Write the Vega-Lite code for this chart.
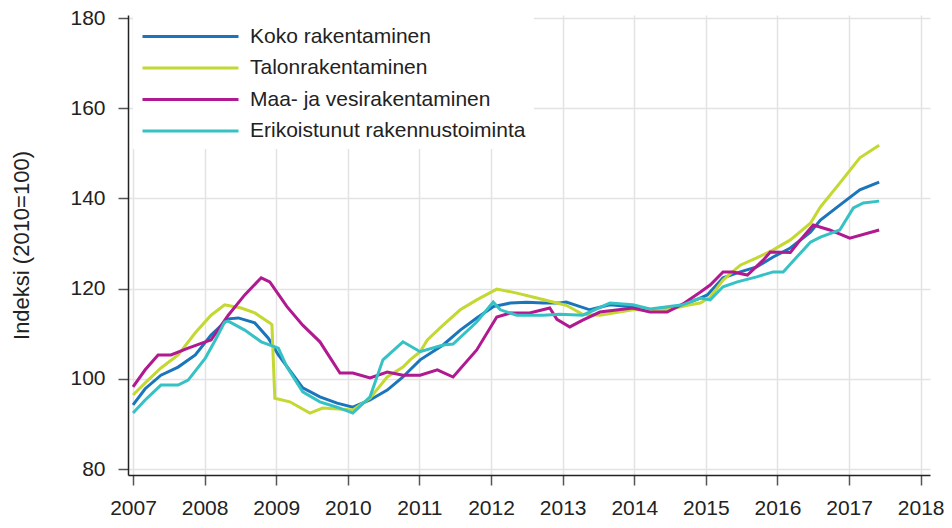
{
  "$schema": "https://vega.github.io/schema/vega-lite/v6.json",
  "autosize": {"type": "none"},
  "padding": {"left": 128, "top": 15, "right": 22, "bottom": 53},
  "width": 802,
  "height": 460,
  "background": "white",
  "config": {
    "font": "Liberation Sans",
    "view": {"stroke": null},
    "axis": {
      "labelFont": "Liberation Sans",
      "titleFont": "Liberation Sans",
      "labelFontSize": 21,
      "titleFontSize": 22,
      "titleFontWeight": "normal",
      "labelColor": "#222",
      "titleColor": "#222",
      "domainColor": "#222",
      "domainWidth": 1.5,
      "tickColor": "#555",
      "tickWidth": 1.5,
      "tickSize": 10,
      "gridColor": "#e3e3e3",
      "gridWidth": 1.5
    }
  },
  "datasets": {
    "d": [
      {"s":"Koko rakentaminen","t":2007.00,"v":94.2},
      {"s":"Koko rakentaminen","t":2007.17,"v":97.8},
      {"s":"Koko rakentaminen","t":2007.39,"v":100.8},
      {"s":"Koko rakentaminen","t":2007.63,"v":102.6},
      {"s":"Koko rakentaminen","t":2007.87,"v":105.3},
      {"s":"Koko rakentaminen","t":2008.09,"v":109.7},
      {"s":"Koko rakentaminen","t":2008.33,"v":113.3},
      {"s":"Koko rakentaminen","t":2008.47,"v":113.5},
      {"s":"Koko rakentaminen","t":2008.70,"v":112.4},
      {"s":"Koko rakentaminen","t":2008.89,"v":109.0},
      {"s":"Koko rakentaminen","t":2009.03,"v":105.3},
      {"s":"Koko rakentaminen","t":2009.37,"v":98.0},
      {"s":"Koko rakentaminen","t":2009.61,"v":96.0},
      {"s":"Koko rakentaminen","t":2009.85,"v":94.6},
      {"s":"Koko rakentaminen","t":2010.07,"v":93.7},
      {"s":"Koko rakentaminen","t":2010.31,"v":95.3},
      {"s":"Koko rakentaminen","t":2010.55,"v":97.5},
      {"s":"Koko rakentaminen","t":2010.77,"v":100.4},
      {"s":"Koko rakentaminen","t":2010.87,"v":102.0},
      {"s":"Koko rakentaminen","t":2011.01,"v":104.2},
      {"s":"Koko rakentaminen","t":2011.33,"v":107.5},
      {"s":"Koko rakentaminen","t":2011.57,"v":110.8},
      {"s":"Koko rakentaminen","t":2011.80,"v":113.5},
      {"s":"Koko rakentaminen","t":2012.03,"v":116.0},
      {"s":"Koko rakentaminen","t":2012.27,"v":116.8},
      {"s":"Koko rakentaminen","t":2012.50,"v":117.0},
      {"s":"Koko rakentaminen","t":2012.73,"v":116.8},
      {"s":"Koko rakentaminen","t":2012.96,"v":116.8},
      {"s":"Koko rakentaminen","t":2013.05,"v":117.0},
      {"s":"Koko rakentaminen","t":2013.38,"v":115.3},
      {"s":"Koko rakentaminen","t":2013.66,"v":116.4},
      {"s":"Koko rakentaminen","t":2013.98,"v":116.0},
      {"s":"Koko rakentaminen","t":2014.22,"v":115.3},
      {"s":"Koko rakentaminen","t":2014.46,"v":115.3},
      {"s":"Koko rakentaminen","t":2014.68,"v":116.4},
      {"s":"Koko rakentaminen","t":2014.92,"v":117.9},
      {"s":"Koko rakentaminen","t":2015.02,"v":118.6},
      {"s":"Koko rakentaminen","t":2015.24,"v":122.4},
      {"s":"Koko rakentaminen","t":2015.48,"v":123.7},
      {"s":"Koko rakentaminen","t":2015.71,"v":124.8},
      {"s":"Koko rakentaminen","t":2015.94,"v":127.0},
      {"s":"Koko rakentaminen","t":2016.18,"v":129.0},
      {"s":"Koko rakentaminen","t":2016.46,"v":132.5},
      {"s":"Koko rakentaminen","t":2016.60,"v":135.2},
      {"s":"Koko rakentaminen","t":2016.87,"v":138.5},
      {"s":"Koko rakentaminen","t":2017.15,"v":141.9},
      {"s":"Koko rakentaminen","t":2017.42,"v":143.6},

      {"s":"Talonrakentaminen","t":2007.00,"v":96.4},
      {"s":"Talonrakentaminen","t":2007.17,"v":99.1},
      {"s":"Talonrakentaminen","t":2007.39,"v":102.4},
      {"s":"Talonrakentaminen","t":2007.63,"v":105.3},
      {"s":"Talonrakentaminen","t":2007.87,"v":110.2},
      {"s":"Talonrakentaminen","t":2008.09,"v":114.1},
      {"s":"Talonrakentaminen","t":2008.28,"v":116.4},
      {"s":"Talonrakentaminen","t":2008.51,"v":115.7},
      {"s":"Talonrakentaminen","t":2008.70,"v":114.6},
      {"s":"Talonrakentaminen","t":2008.91,"v":112.4},
      {"s":"Talonrakentaminen","t":2008.94,"v":112.0},
      {"s":"Talonrakentaminen","t":2008.98,"v":95.7},
      {"s":"Talonrakentaminen","t":2009.19,"v":94.9},
      {"s":"Talonrakentaminen","t":2009.47,"v":92.4},
      {"s":"Talonrakentaminen","t":2009.65,"v":93.5},
      {"s":"Talonrakentaminen","t":2010.07,"v":93.1},
      {"s":"Talonrakentaminen","t":2010.31,"v":95.7},
      {"s":"Talonrakentaminen","t":2010.55,"v":100.4},
      {"s":"Talonrakentaminen","t":2010.77,"v":102.6},
      {"s":"Talonrakentaminen","t":2010.87,"v":104.2},
      {"s":"Talonrakentaminen","t":2011.01,"v":106.0},
      {"s":"Talonrakentaminen","t":2011.11,"v":108.6},
      {"s":"Talonrakentaminen","t":2011.33,"v":111.9},
      {"s":"Talonrakentaminen","t":2011.57,"v":115.3},
      {"s":"Talonrakentaminen","t":2011.80,"v":117.5},
      {"s":"Talonrakentaminen","t":2012.08,"v":119.9},
      {"s":"Talonrakentaminen","t":2012.36,"v":119.0},
      {"s":"Talonrakentaminen","t":2012.64,"v":117.9},
      {"s":"Talonrakentaminen","t":2012.92,"v":116.8},
      {"s":"Talonrakentaminen","t":2013.05,"v":116.3},
      {"s":"Talonrakentaminen","t":2013.28,"v":114.3},
      {"s":"Talonrakentaminen","t":2013.52,"v":114.1},
      {"s":"Talonrakentaminen","t":2013.98,"v":115.3},
      {"s":"Talonrakentaminen","t":2014.46,"v":115.3},
      {"s":"Talonrakentaminen","t":2014.78,"v":116.4},
      {"s":"Talonrakentaminen","t":2014.92,"v":116.8},
      {"s":"Talonrakentaminen","t":2015.06,"v":118.1},
      {"s":"Talonrakentaminen","t":2015.24,"v":121.9},
      {"s":"Talonrakentaminen","t":2015.48,"v":125.2},
      {"s":"Talonrakentaminen","t":2015.71,"v":126.8},
      {"s":"Talonrakentaminen","t":2015.94,"v":128.6},
      {"s":"Talonrakentaminen","t":2016.18,"v":130.8},
      {"s":"Talonrakentaminen","t":2016.46,"v":134.5},
      {"s":"Talonrakentaminen","t":2016.60,"v":138.1},
      {"s":"Talonrakentaminen","t":2016.87,"v":143.4},
      {"s":"Talonrakentaminen","t":2017.15,"v":149.0},
      {"s":"Talonrakentaminen","t":2017.42,"v":151.8},

      {"s":"Maa- ja vesirakentaminen","t":2007.00,"v":98.2},
      {"s":"Maa- ja vesirakentaminen","t":2007.17,"v":102.0},
      {"s":"Maa- ja vesirakentaminen","t":2007.35,"v":105.3},
      {"s":"Maa- ja vesirakentaminen","t":2007.53,"v":105.3},
      {"s":"Maa- ja vesirakentaminen","t":2007.77,"v":106.8},
      {"s":"Maa- ja vesirakentaminen","t":2008.01,"v":108.2},
      {"s":"Maa- ja vesirakentaminen","t":2008.09,"v":108.6},
      {"s":"Maa- ja vesirakentaminen","t":2008.33,"v":114.1},
      {"s":"Maa- ja vesirakentaminen","t":2008.56,"v":118.6},
      {"s":"Maa- ja vesirakentaminen","t":2008.79,"v":122.4},
      {"s":"Maa- ja vesirakentaminen","t":2008.91,"v":121.5},
      {"s":"Maa- ja vesirakentaminen","t":2009.15,"v":116.0},
      {"s":"Maa- ja vesirakentaminen","t":2009.37,"v":111.9},
      {"s":"Maa- ja vesirakentaminen","t":2009.61,"v":108.2},
      {"s":"Maa- ja vesirakentaminen","t":2009.89,"v":101.3},
      {"s":"Maa- ja vesirakentaminen","t":2010.07,"v":101.3},
      {"s":"Maa- ja vesirakentaminen","t":2010.31,"v":100.2},
      {"s":"Maa- ja vesirakentaminen","t":2010.55,"v":101.5},
      {"s":"Maa- ja vesirakentaminen","t":2010.77,"v":100.8},
      {"s":"Maa- ja vesirakentaminen","t":2011.01,"v":100.8},
      {"s":"Maa- ja vesirakentaminen","t":2011.25,"v":102.0},
      {"s":"Maa- ja vesirakentaminen","t":2011.47,"v":100.4},
      {"s":"Maa- ja vesirakentaminen","t":2011.80,"v":106.4},
      {"s":"Maa- ja vesirakentaminen","t":2012.08,"v":113.7},
      {"s":"Maa- ja vesirakentaminen","t":2012.27,"v":114.6},
      {"s":"Maa- ja vesirakentaminen","t":2012.54,"v":114.6},
      {"s":"Maa- ja vesirakentaminen","t":2012.82,"v":115.7},
      {"s":"Maa- ja vesirakentaminen","t":2012.92,"v":113.2},
      {"s":"Maa- ja vesirakentaminen","t":2013.10,"v":111.5},
      {"s":"Maa- ja vesirakentaminen","t":2013.28,"v":113.0},
      {"s":"Maa- ja vesirakentaminen","t":2013.52,"v":114.8},
      {"s":"Maa- ja vesirakentaminen","t":2013.98,"v":115.7},
      {"s":"Maa- ja vesirakentaminen","t":2014.22,"v":114.8},
      {"s":"Maa- ja vesirakentaminen","t":2014.46,"v":114.8},
      {"s":"Maa- ja vesirakentaminen","t":2014.68,"v":116.6},
      {"s":"Maa- ja vesirakentaminen","t":2014.92,"v":119.2},
      {"s":"Maa- ja vesirakentaminen","t":2015.06,"v":120.8},
      {"s":"Maa- ja vesirakentaminen","t":2015.24,"v":123.7},
      {"s":"Maa- ja vesirakentaminen","t":2015.38,"v":123.7},
      {"s":"Maa- ja vesirakentaminen","t":2015.58,"v":123.0},
      {"s":"Maa- ja vesirakentaminen","t":2015.80,"v":126.3},
      {"s":"Maa- ja vesirakentaminen","t":2015.90,"v":128.1},
      {"s":"Maa- ja vesirakentaminen","t":2016.18,"v":128.0},
      {"s":"Maa- ja vesirakentaminen","t":2016.32,"v":130.8},
      {"s":"Maa- ja vesirakentaminen","t":2016.50,"v":134.1},
      {"s":"Maa- ja vesirakentaminen","t":2016.73,"v":133.0},
      {"s":"Maa- ja vesirakentaminen","t":2017.01,"v":131.2},
      {"s":"Maa- ja vesirakentaminen","t":2017.42,"v":133.0},

      {"s":"Erikoistunut rakennustoiminta","t":2007.00,"v":92.4},
      {"s":"Erikoistunut rakennustoiminta","t":2007.17,"v":95.3},
      {"s":"Erikoistunut rakennustoiminta","t":2007.39,"v":98.6},
      {"s":"Erikoistunut rakennustoiminta","t":2007.63,"v":98.6},
      {"s":"Erikoistunut rakennustoiminta","t":2007.77,"v":99.7},
      {"s":"Erikoistunut rakennustoiminta","t":2008.01,"v":104.6},
      {"s":"Erikoistunut rakennustoiminta","t":2008.15,"v":108.6},
      {"s":"Erikoistunut rakennustoiminta","t":2008.28,"v":112.6},
      {"s":"Erikoistunut rakennustoiminta","t":2008.33,"v":112.8},
      {"s":"Erikoistunut rakennustoiminta","t":2008.56,"v":110.8},
      {"s":"Erikoistunut rakennustoiminta","t":2008.79,"v":108.2},
      {"s":"Erikoistunut rakennustoiminta","t":2009.03,"v":106.8},
      {"s":"Erikoistunut rakennustoiminta","t":2009.15,"v":102.6},
      {"s":"Erikoistunut rakennustoiminta","t":2009.37,"v":97.1},
      {"s":"Erikoistunut rakennustoiminta","t":2009.61,"v":94.9},
      {"s":"Erikoistunut rakennustoiminta","t":2009.85,"v":93.7},
      {"s":"Erikoistunut rakennustoiminta","t":2010.07,"v":92.4},
      {"s":"Erikoistunut rakennustoiminta","t":2010.31,"v":96.0},
      {"s":"Erikoistunut rakennustoiminta","t":2010.49,"v":104.2},
      {"s":"Erikoistunut rakennustoiminta","t":2010.77,"v":108.2},
      {"s":"Erikoistunut rakennustoiminta","t":2011.01,"v":106.0},
      {"s":"Erikoistunut rakennustoiminta","t":2011.33,"v":107.5},
      {"s":"Erikoistunut rakennustoiminta","t":2011.47,"v":107.7},
      {"s":"Erikoistunut rakennustoiminta","t":2011.80,"v":112.6},
      {"s":"Erikoistunut rakennustoiminta","t":2012.03,"v":117.0},
      {"s":"Erikoistunut rakennustoiminta","t":2012.13,"v":115.3},
      {"s":"Erikoistunut rakennustoiminta","t":2012.36,"v":114.1},
      {"s":"Erikoistunut rakennustoiminta","t":2012.73,"v":114.1},
      {"s":"Erikoistunut rakennustoiminta","t":2012.96,"v":114.3},
      {"s":"Erikoistunut rakennustoiminta","t":2013.28,"v":114.1},
      {"s":"Erikoistunut rakennustoiminta","t":2013.66,"v":116.8},
      {"s":"Erikoistunut rakennustoiminta","t":2013.98,"v":116.4},
      {"s":"Erikoistunut rakennustoiminta","t":2014.22,"v":115.5},
      {"s":"Erikoistunut rakennustoiminta","t":2014.68,"v":116.4},
      {"s":"Erikoistunut rakennustoiminta","t":2014.92,"v":117.9},
      {"s":"Erikoistunut rakennustoiminta","t":2015.06,"v":117.5},
      {"s":"Erikoistunut rakennustoiminta","t":2015.24,"v":120.4},
      {"s":"Erikoistunut rakennustoiminta","t":2015.44,"v":121.5},
      {"s":"Erikoistunut rakennustoiminta","t":2015.71,"v":122.6},
      {"s":"Erikoistunut rakennustoiminta","t":2015.94,"v":123.7},
      {"s":"Erikoistunut rakennustoiminta","t":2016.08,"v":123.7},
      {"s":"Erikoistunut rakennustoiminta","t":2016.27,"v":127.0},
      {"s":"Erikoistunut rakennustoiminta","t":2016.46,"v":130.3},
      {"s":"Erikoistunut rakennustoiminta","t":2016.60,"v":131.4},
      {"s":"Erikoistunut rakennustoiminta","t":2016.87,"v":133.0},
      {"s":"Erikoistunut rakennustoiminta","t":2017.06,"v":137.9},
      {"s":"Erikoistunut rakennustoiminta","t":2017.20,"v":139.0},
      {"s":"Erikoistunut rakennustoiminta","t":2017.42,"v":139.4}
    ]
  },
  "data": {"name": "d"},
  "mark": {"type": "line", "strokeWidth": 3, "interpolate": "linear", "clip": true},
  "encoding": {
    "x": {
      "field": "t",
      "type": "quantitative",
      "scale": {"domain": [2006.93, 2018.13], "nice": false, "zero": false},
      "axis": {
        "title": null,
        "values": [2007,2008,2009,2010,2011,2012,2013,2014,2015,2016,2017,2018],
        "format": "d",
        "labelPadding": 12,
        "labelFlush": false
      }
    },
    "y": {
      "field": "v",
      "type": "quantitative",
      "scale": {"domain": [78.67, 180.67], "nice": false, "zero": false},
      "axis": {
        "title": "Indeksi (2010=100)",
        "values": [80,100,120,140,160,180],
        "labelPadding": 13,
        "titlePadding": 36
      }
    },
    "color": {
      "field": "s",
      "type": "nominal",
      "sort": null,
      "scale": {
        "domain": ["Koko rakentaminen","Talonrakentaminen","Maa- ja vesirakentaminen","Erikoistunut rakennustoiminta"],
        "range": ["#1a75bb","#c3d831","#b0198f","#36c2c4"]
      },
      "legend": {
        "title": null,
        "orient": "none",
        "legendX": 5,
        "legendY": 0,
        "padding": 8,
        "fillColor": "white",
        "symbolType": "M-1,0H7",
        "symbolSize": 576,
        "symbolStrokeWidth": 3,
        "labelOffset": 82,
        "labelFont": "Liberation Sans",
        "labelFontSize": 21,
        "labelColor": "#222",
        "labelLimit": 400,
        "rowPadding": 7.5
      }
    }
  }
}
